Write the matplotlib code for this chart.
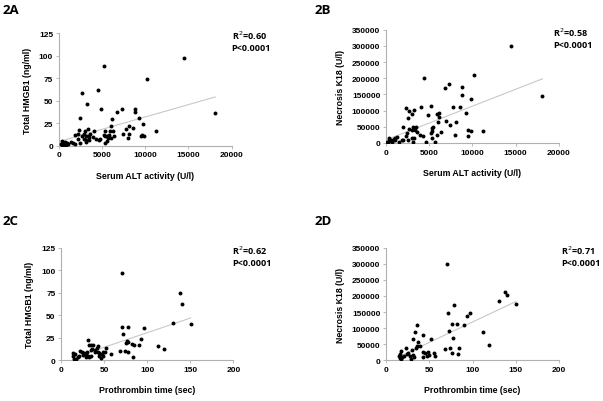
import numpy as np
import matplotlib.pyplot as plt

plt.rcParams['font.family'] = ['Liberation Sans', 'DejaVu Sans']

# ALT (U/l) vs total HMGB1 (ng/ml)  -- panel 2A
alt_a = [14500, 5270, 10200, 2700, 4500, 3300, 4880, 2500, 7270, 6800, 8770, 8800,
         6110, 9230, 9770, 18100, 6070, 8150, 7730, 8540, 7380, 8115, 8040, 9620,
         9500, 9850, 11270, 4040, 3350, 2310, 2200, 1920, 2730, 3040, 2960, 3150,
         3380, 3540, 3650, 3960, 4310, 4650, 4770, 2920, 3110, 3190, 3540, 2270,
         2420, 1690, 1850, 1380, 5190, 5300, 5300, 5540, 5350, 5810, 5730, 6040,
         5920, 6270, 6420, 5620, 270, 460, 620, 770, 920, 1120, 350, 540, 880, 400]
hmgb1_a = [97, 88, 74, 59, 62, 46, 40.5, 30.5, 41, 37.5, 41, 37.5,
           30, 31, 24.5, 36, 22, 22, 18.5, 19.5, 13.5, 13.5, 9, 11.5,
           10.5, 11, 16, 16.5, 19, 18, 13.5, 12, 11, 16.5, 13.5, 11,
           10.5, 9.5, 12.5, 9.5, 8, 6, 7.5, 7.5, 6.5, 4, 6, 8,
           3.5, 3.5, 2, 4.5, 12, 16.5, 10.5, 11, 3.5, 12, 9, 9,
           16, 16, 10.5, 5.5, 2, 3.5, 3, 4.5, 3, 2, 1, 1, 1, 5]

# ALT (U/l) vs necrosis K18 (U/l)  -- panel 2B
alt_b = [14500, 18100, 4460, 10190, 7270, 6850, 8770, 8810, 9810, 5190, 4080, 2270,
         2650, 3270, 3000, 4880, 5880, 6120, 6150, 7810, 8540, 9230, 2500, 6000,
         7000, 7420, 8115, 2000, 3150, 3500, 2690, 3000, 3350, 3620, 2380, 2310,
         3920, 4230, 5420, 5350, 5350, 5190, 5380, 5850, 6380, 4620, 5620, 8000,
         9540, 9500, 9850, 11230, 2960, 3270, 3150, 2580, 1880, 1500, 2000,
         190, 380, 540, 690, 920, 1070, 1230, 310, 650, 1040, 150]
k18_b = [300000, 146000, 201000, 211000, 183000, 170000, 173000, 147000, 136000, 115000, 110000, 109000,
         100000, 102000, 88500, 87500, 88500, 91600, 80300, 111000, 112000, 93700, 77200, 65900,
         66900, 56600, 65900, 50400, 48400, 48400, 42200, 41200, 39100, 34000, 30900, 21600,
         24700, 22600, 50400, 45300, 37000, 30900, 15400, 23700, 32900, 2000, 4100, 25700,
         39100, 20600, 36000, 38000, 14400, 14400, 4100, 8200, 8200, 2000, 10300,
         2000, 7200, 10300, 4100, 12300, 16400, 18000, 14400, 6200, 9200, 3000]

# Prothrombin time (sec) vs total HMGB1 (ng/ml)  -- panel 2C
pt_c = [70.4, 138.5, 140.4, 130.4, 150.5, 71.2, 78.1, 96.7, 72.4, 93.2, 76.6, 78.1,
        75.8, 82, 84.7, 90.1, 112.6, 119.7, 68.5, 74.7, 77.8, 83.2, 57.6, 51.5,
        52.2, 49.1, 47.6, 44.1, 30.9, 32.5, 34.8, 37.5, 42.6, 36, 39.5, 41.6,
        34.8, 39.8, 42.6, 44.5, 22, 24.8, 27.1, 29, 30.6, 31.7, 32.9, 25.1,
        20.5, 16.6, 14.3, 13.5, 14.7, 17.4, 19.3, 29.4, 34.4, 46.4, 49.1]
hmgb1_c = [96.5, 74.5, 62.5, 41, 40.5, 37.5, 37.5, 36, 29.5, 24, 21.5, 20,
           19, 18, 16.5, 17.5, 16, 12.5, 10.5, 10.5, 9, 3.5, 6.5, 9.5,
           13.5, 9, 7.5, 5, 22, 16.5, 17.5, 16.5, 16, 12.5, 12, 13.5,
           12, 9, 9.5, 8.5, 10.5, 9, 8, 7, 9, 5, 3.5, 5.5,
           4.5, 6.5, 8, 5, 2, 2, 3.5, 3.5, 4.5, 2.5, 4.5]

# Prothrombin time (sec) vs necrosis K18 (U/l)  -- panel 2D
pt_d = [70, 138, 140, 130.4, 150, 78, 71.2, 97, 93, 90, 76, 82.3,
        72.7, 112.3, 77, 119, 74.2, 83.8, 68, 76.5, 82.7, 35.4, 33.5, 42.7,
        30.8, 51.5, 37.3, 35.8, 38.8, 34.6, 23, 17.7, 29.6, 42.7, 45.4, 48.5,
        55.4, 50, 56.9, 43.1, 46.9, 25.8, 27.7, 21.2, 23.8, 30.8, 32.3, 28.5,
        14.6, 15.8, 17.3, 18.8, 16.2]
k18_d = [300000, 213000, 202000, 185000, 174000, 171000, 147000, 148000, 137000, 111000, 112000, 112000,
         91000, 88000, 68000, 48700, 38300, 38300, 34200, 22800, 19700, 110000, 89000, 79700,
         65200, 66300, 55900, 45600, 45600, 38300, 37300, 30000, 31000, 25900, 22800, 25900,
         22800, 16600, 12400, 10400, 13500, 22800, 14500, 12400, 18600, 17600, 10400, 4100,
         14500, 7200, 4100, 10400, 18600]

# tag, x, y, x label, y label, R^2, axes rect, x max, x step, y max, y step,
# tag position (figure fraction), stats x (axes fraction)
panels = [
    ('2A', alt_a, hmgb1_a, 'Serum ALT activity (U/l)', 'Total HMGB1 (ng/ml)', '0.60',
     [0.0973, 0.635, 0.2869, 0.2803], 20000, 5000, 125, 25, (0.005, 0.974), 1.0),
    ('2B', alt_b, k18_b, 'Serum ALT activity (U/l)', 'Necrosis K18 (U/l)', '0.58',
     [0.640, 0.6418, 0.2869, 0.2818], 20000, 5000, 350000, 50000, (0.522, 0.974), 0.965),
    ('2C', pt_c, hmgb1_c, 'Prothrombin time (sec)', 'Total HMGB1 (ng/ml)', '0.62',
     [0.1012, 0.1012, 0.2857, 0.2801], 200, 50, 125, 25, (0.005, 0.448), 0.995),
    ('2D', pt_d, k18_d, 'Prothrombin time (sec)', 'Necrosis K18 (U/l)', '0.71',
     [0.640, 0.1012, 0.2874, 0.2801], 200, 50, 350000, 50000, (0.522, 0.448), 1.01),
]

fig = plt.figure(figsize=(6.03, 4.02), dpi=100)

for (tag, xs, ys, xlab, ylab, r2, rect, xmax, xstep, ymax, ystep,
     tagpos, statx) in panels:
    ax = fig.add_axes(rect)
    xs = np.array(xs, dtype=float)
    ys = np.array(ys, dtype=float)
    ax.scatter(xs, ys, s=8, color='black', zorder=3, linewidths=0)

    # linear trendline over the data range
    k, b = np.polyfit(xs, ys, 1)
    xl = np.array([xs.min(), xs.max()])
    ax.plot(xl, k * xl + b, color='#c8c8c8', lw=0.8, zorder=2)

    ax.set_xlim(0, xmax)
    ax.set_ylim(0, ymax)
    ax.set_xticks(np.arange(0, xmax + 1, xstep))
    ax.set_yticks(np.arange(0, ymax + 1, ystep))
    for s in ['top', 'right']:
        ax.spines[s].set_visible(False)
    for s in ['left', 'bottom']:
        ax.spines[s].set_color('#b0b0b0')
        ax.spines[s].set_linewidth(0.8)
    ax.tick_params(direction='out', length=2, width=0.6, color='#b0b0b0',
                   labelsize=6, pad=2)
    for lab in ax.get_xticklabels() + ax.get_yticklabels():
        lab.set_fontweight('bold')
    ax.set_xlabel(xlab, fontsize=6.3, fontweight='bold', labelpad=9)
    ax.set_ylabel(ylab, fontsize=6.3, fontweight='bold', labelpad=5)

    ax.text(statx, 0.985, 'R$^2$=' + r2, transform=ax.transAxes,
            fontsize=6.5, fontweight='bold', va='center', ha='left',
            family=['Open Sans', 'DejaVu Sans'])
    ax.text(statx, 0.87, 'P<0.0001', transform=ax.transAxes,
            fontsize=6.5, fontweight='bold', va='center', ha='left',
            family=['Open Sans', 'DejaVu Sans'])

    fig.text(tagpos[0], tagpos[1], tag, fontsize=9.5, fontweight='bold',
             family=['Open Sans', 'DejaVu Sans'], va='center', ha='left')

fig.savefig('out.png', dpi=100)
